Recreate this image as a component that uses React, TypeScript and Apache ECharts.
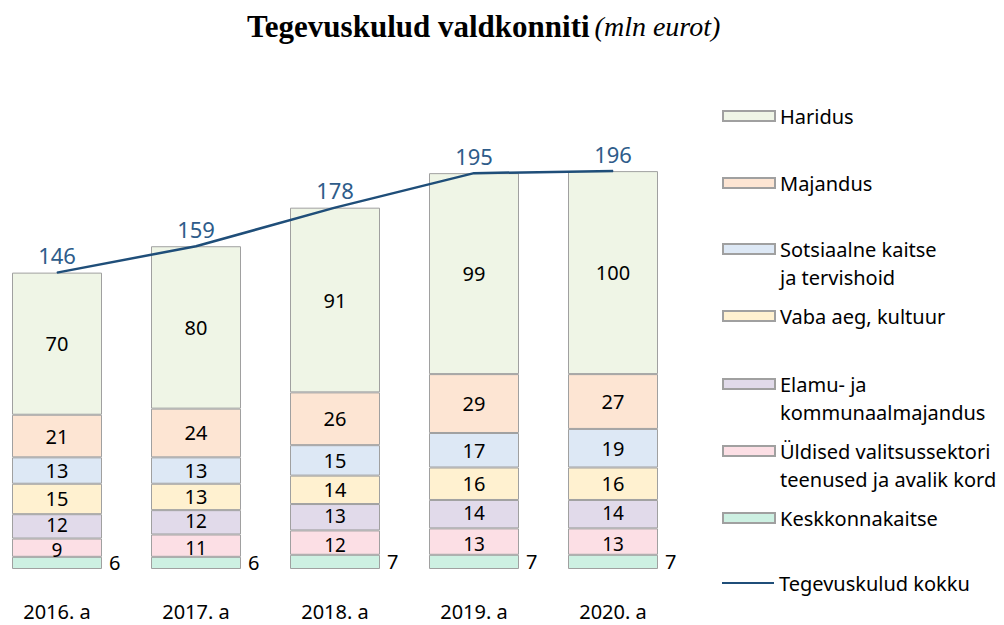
import React, { useEffect, useRef } from "react";
import * as echarts from "echarts";

const years = ["2016. a", "2017. a", "2018. a", "2019. a", "2020. a"];
const keskkonnakaitse = [6, 6, 7, 7, 7];
const uldised = [9, 11, 12, 13, 13];
const elamu = [12, 12, 13, 14, 14];
const vabaAeg = [15, 13, 14, 16, 16];
const sotsiaalne = [13, 13, 15, 17, 19];
const majandus = [21, 24, 26, 29, 27];
const haridus = [70, 80, 91, 99, 100];
const kokku = [146, 159, 178, 195, 196];

const FONT = "Noto Sans";

const barDefs = [
  { name: "Keskkonnakaitse", data: keskkonnakaitse, color: "#CDF0E2", labelPos: "right", dy: 0 },
  { name: "Üldised valitsussektori teenused ja avalik kord", data: uldised, color: "#FCDFE5", labelPos: "inside", dy: 2 },
  { name: "Elamu- ja kommunaalmajandus", data: elamu, color: "#E1DAEA", labelPos: "inside", dy: -1 },
  { name: "Vaba aeg, kultuur", data: vabaAeg, color: "#FFF1D0", labelPos: "inside", dy: 0 },
  { name: "Sotsiaalne kaitse ja tervishoid", data: sotsiaalne, color: "#DDE8F5", labelPos: "inside", dy: 0 },
  { name: "Majandus", data: majandus, color: "#FDE5D3", labelPos: "inside", dy: 0 },
  { name: "Haridus", data: haridus, color: "#EFF5E6", labelPos: "inside", dy: 0 },
];

const legendDefs = [
  { name: "Haridus", lines: ["Haridus"], center: 116 },
  { name: "Majandus", lines: ["Majandus"], center: 183 },
  { name: "Sotsiaalne kaitse ja tervishoid", lines: ["Sotsiaalne kaitse", "ja tervishoid"], center: 249 },
  { name: "Vaba aeg, kultuur", lines: ["Vaba aeg, kultuur"], center: 316 },
  { name: "Elamu- ja kommunaalmajandus", lines: ["Elamu- ja", "kommunaalmajandus"], center: 384 },
  { name: "Üldised valitsussektori teenused ja avalik kord", lines: ["Üldised valitsussektori", "teenused ja avalik kord"], center: 451 },
  { name: "Keskkonnakaitse", lines: ["Keskkonnakaitse"], center: 518 },
  { name: "Tegevuskulud kokku", lines: ["Tegevuskulud kokku"], center: 583 },
];

export default function App() {
  const ref = useRef<HTMLDivElement>(null);
  useEffect(() => {
    if (!ref.current) return;
    const chart = echarts.init(ref.current, null, { renderer: "svg" });
    const LH = 28;
    const legends = legendDefs.map((l) => {
      const multi = l.lines.length > 1;
      const isLine = l.name === "Tegevuskulud kokku";
      return {
        data: isLine
          ? [{ name: l.name, icon: "rect", itemStyle: { color: "#1F4E79", borderWidth: 0 } }]
          : [{ name: l.name, icon: "rect" }],
        left: 722,
        top: multi ? l.center - LH * 1.5 : l.center - LH / 2,
        orient: "vertical",
        padding: 0,
        itemWidth: 52,
        itemHeight: isLine ? 2 : 10,
        selectedMode: false,
        formatter: () => (multi ? " \n" : "") + l.lines.join("\n"),
        textStyle: {
          fontFamily: FONT,
          fontSize: 20,
          color: "#000",
          lineHeight: LH,
        },
      };
    });
    const series: any[] = barDefs.map((b) => ({
      name: b.name,
      type: "bar",
      stack: "total",
      barWidth: 90,
      data: b.data,
      itemStyle: { color: b.color, borderColor: "#A0A0A0", borderWidth: 1 },
      label: {
        show: true,
        position: b.labelPos,
        distance: 7,
        offset: [0, b.dy],
        fontFamily: FONT,
        fontSize: b.dy !== 0 ? 19 : 20,
        lineHeight: 17,
        color: "#000",
      },
    }));
    series.push({
      name: "Tegevuskulud kokku",
      type: "line",
      data: kokku,
      symbol: "circle",
      symbolSize: 1,
      z: 10,
      itemStyle: { color: "#1F4E79" },
      lineStyle: { color: "#1F4E79", width: 2.5 },
      label: {
        show: true,
        position: "top",
        distance: 6,
        fontFamily: FONT,
        fontSize: 22,
        color: "#2E5C8A",
      },
    });
    chart.setOption({
      animation: false,
      title: {
        text: "{b|Tegevuskulud valdkonniti} {i|(mln eurot)}",
        left: 242,
        top: 6,
        textStyle: {
          fontWeight: "normal",
          rich: {
            b: { fontFamily: "Liberation Serif", fontWeight: "bold", fontSize: 31, color: "#000" },
            i: { fontFamily: "Liberation Serif", fontStyle: "italic", fontWeight: "normal", fontSize: 28, color: "#000" },
          },
        },
      },
      legend: legends,
      grid: { left: -12.5, width: 695, top: 163, height: 406, outerBoundsMode: "none", containLabel: false },
      xAxis: {
        type: "category",
        data: years,
        axisLine: { show: false },
        axisTick: { show: false },
        axisLabel: { fontFamily: FONT, fontSize: 20, color: "#000", margin: 32 },
      },
      yAxis: {
        type: "value",
        min: 0,
        max: 200,
        show: false,
        splitLine: { show: false },
      },
      series,
    });
    return () => chart.dispose();
  }, []);
  return (
    <div
      ref={ref}
      style={{ position: "fixed", left: 0, top: 0, width: 1004, height: 625, background: "#fff" }}
    />
  );
}
